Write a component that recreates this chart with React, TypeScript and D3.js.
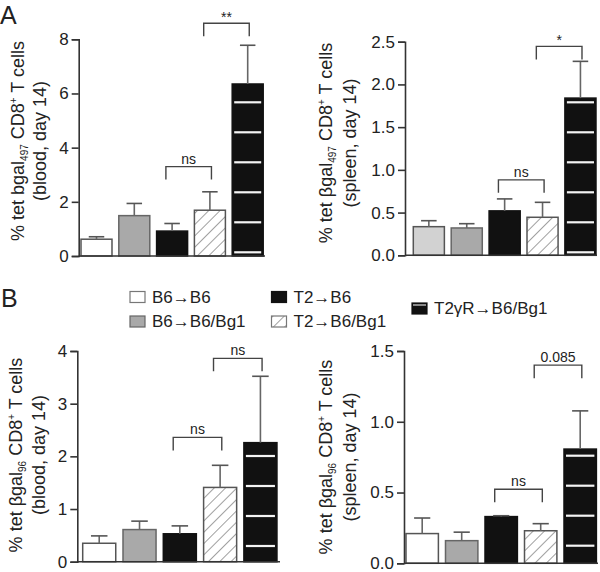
import { useEffect, useRef } from "react";
import * as d3 from "d3";

const groups = ["B6→B6", "B6→B6/Bg1", "T2→B6", "T2→B6/Bg1", "T2γR→B6/Bg1"];

// A: bgal497, day 14
const blood497Mean = [0.62, 1.49, 0.92, 1.69, 6.35];
const blood497Err = [0.09, 0.45, 0.28, 0.68, 1.43];
const spleen497Mean = [0.335, 0.32, 0.52, 0.445, 1.84];
const spleen497Err = [0.07, 0.05, 0.14, 0.175, 0.43];

// B: bgal96, day 14
const blood96Mean = [0.35, 0.61, 0.53, 1.41, 2.26];
const blood96Err = [0.14, 0.16, 0.15, 0.42, 1.26];
const spleen96Mean = [0.21, 0.16, 0.33, 0.23, 0.807];
const spleen96Err = [0.11, 0.06, 0.006, 0.05, 0.27];

const ticksBlood497 = [0, 2, 4, 6, 8];
const ticksSpleen497 = [0, 0.5, 1.0, 1.5, 2.0, 2.5];
const ticksBlood96 = [0, 1, 2, 3, 4];
const ticksSpleen96 = [0, 0.5, 1.0, 1.5];

interface Bracket { from: number; to: number; y: number; label: string }

const bracketsBlood497: Bracket[] = [
  { from: 2, to: 3, y: 3.3, label: "ns" },
  { from: 3, to: 4, y: 8.59, label: "**" },
];
const bracketsSpleen497: Bracket[] = [
  { from: 2, to: 3, y: 0.883, label: "ns" },
  { from: 3, to: 4, y: 2.445, label: "*" },
];
const bracketsBlood96: Bracket[] = [
  { from: 2, to: 3, y: 2.36, label: "ns" },
  { from: 3, to: 4, y: 3.86, label: "ns" },
];
const bracketsSpleen96: Bracket[] = [
  { from: 2, to: 3, y: 0.523, label: "ns" },
  { from: 3, to: 4, y: 1.4, label: "0.085" },
];

const FONT = "Liberation Sans, Arial, Helvetica, sans-serif";
const INK = "#222";
const fills = ["#ffffff", "#a9a9a9", "#111111", "url(#hatch)", "#111111"];
const strokes = ["#555", "#666", "#111", "#555", "#111"];

interface PanelProps {
  means: number[];
  errs: number[];
  ticks: number[];
  fmt: string;
  brackets: Bracket[];
  axisX: number;
  barX0: number;
  step: number;
  top: number;
  base: number;
  xEnd: number;
  stripeOffset: number;
  firstFill?: string;
  tissue: string;
  epitope: string;
  beta: boolean;
  labelX: [number, number];
  labelY: number;
}

const Panel: React.FC<PanelProps> = (p) => {
  const ref = useRef<SVGGElement>(null);

  useEffect(() => {
    if (!ref.current) return;
    const g = d3.select(ref.current);
    g.selectAll("*").remove();

    const y = d3.scaleLinear()
      .domain([0, p.ticks[p.ticks.length - 1]])
      .range([p.base, p.top]);
    const x = d3.scaleBand<string>()
      .domain(groups)
      .range([p.barX0, p.barX0 + p.step * (groups.length - 0.18)])
      .paddingInner(0.18)
      .paddingOuter(0);
    const bw = x.bandwidth();

    // bars
    groups.forEach((grp, i) => {
      const x0 = x(grp)!;
      const yt = y(p.means[i]);
      g.append("rect")
        .attr("x", x0).attr("y", yt)
        .attr("width", bw).attr("height", p.base - yt)
        .attr("fill", i === 0 && p.firstFill ? p.firstFill : fills[i])
        .attr("stroke", strokes[i])
        .attr("stroke-width", 1.5);
      if (i === 4) {
        // white stripes on the T2γR bar
        for (let sy = p.base - p.stripeOffset; sy > yt + 2; sy -= 30) {
          g.append("line")
            .attr("x1", x0 + 2).attr("x2", x0 + bw - 2)
            .attr("y1", sy).attr("y2", sy)
            .attr("stroke", "#f4f4f4").attr("stroke-width", 2.2);
        }
      }
      // error bar (upper only)
      const cx = x0 + bw / 2;
      const ye = y(p.means[i] + p.errs[i]);
      g.append("line")
        .attr("x1", cx).attr("x2", cx).attr("y1", yt).attr("y2", ye)
        .attr("stroke", "#666").attr("stroke-width", 1.6);
      g.append("line")
        .attr("x1", cx - bw * 0.25).attr("x2", cx + bw * 0.25)
        .attr("y1", ye).attr("y2", ye)
        .attr("stroke", "#555").attr("stroke-width", 1.6);
    });

    // axes
    const yAxis = g.append("g")
      .attr("transform", `translate(${p.axisX},0)`)
      .call(d3.axisLeft(y).tickValues(p.ticks).tickSize(7).tickPadding(3)
        .tickFormat((d) => d3.format(p.fmt)(d as number)));
    yAxis.select(".domain").attr("stroke", "#333").attr("stroke-width", 1.6);
    yAxis.selectAll(".tick line").attr("stroke", "#333").attr("stroke-width", 1.6);
    yAxis.selectAll(".tick text")
      .attr("font-family", FONT).attr("font-size", 17).attr("fill", INK);
    yAxis.attr("font-family", null).attr("font-size", null);

    g.append("line")
      .attr("x1", p.axisX).attr("x2", p.xEnd)
      .attr("y1", p.base).attr("y2", p.base)
      .attr("stroke", "#333").attr("stroke-width", 1.6);

    // significance brackets
    p.brackets.forEach((b) => {
      const xa = x(groups[b.from])! + bw * 0.3;
      const xb = x(groups[b.to])! + bw * 0.55;
      const yb = y(b.y);
      g.append("path")
        .attr("d", `M${xa},${yb + 13}V${yb}H${xb}V${yb + 13}`)
        .attr("fill", "none").attr("stroke", "#444").attr("stroke-width", 1.4);
      g.append("text")
        .attr("x", (xa + xb) / 2).attr("y", b.label.startsWith("*") ? yb - 1 : yb - 3)
        .attr("text-anchor", "middle")
        .attr("font-family", FONT).attr("font-size", 14).attr("fill", INK)
        .text(b.label);
    });

    // y label
    const t1 = g.append("text")
      .attr("transform", `translate(${p.labelX[0]},${p.labelY}) rotate(-90)`)
      .attr("text-anchor", "middle")
      .attr("font-family", FONT).attr("font-size", 18).attr("fill", INK);
    t1.append("tspan").text(p.beta ? "% tet βgal" : "% tet bgal");
    t1.append("tspan").attr("font-size", 10).attr("dy", 4).text(p.epitope);
    t1.append("tspan").attr("dy", -4).text(" CD8");
    t1.append("tspan").attr("font-size", 10).attr("dy", -7).text("+");
    t1.append("tspan").attr("dy", 7).text(" T cells");

    g.append("text")
      .attr("transform", `translate(${p.labelX[1]},${p.labelY}) rotate(-90)`)
      .attr("text-anchor", "middle")
      .attr("font-family", FONT).attr("font-size", 18).attr("fill", INK)
      .text(`(${p.tissue}, day 14)`);
  }, [p]);

  return <g ref={ref} />;
};

const Legend: React.FC = () => {
  const items = [
    { i: 0, x: 130, y: 291.5 },
    { i: 1, x: 130, y: 316 },
    { i: 2, x: 271.5, y: 291.5 },
    { i: 3, x: 271.5, y: 316 },
    { i: 4, x: 412, y: 303 },
  ];
  return (
    <g fontFamily={FONT} fontSize={17} fill={INK}>
      {items.map((it) => (
        <g key={it.i}>
          <rect x={it.x} y={it.y} width={15} height={11}
            fill={fills[it.i]} stroke={it.i === 0 || it.i === 3 ? "#777" : strokes[it.i]} strokeWidth={1.2} />
          {it.i === 4 && (
            <line x1={it.x + 1} x2={it.x + 14} y1={it.y + 2} y2={it.y + 2} stroke="#ddd" strokeWidth={1.2} />
          )}
          <text x={it.x + 22} y={it.y + 11}>{groups[it.i]}</text>
        </g>
      ))}
    </g>
  );
};

export default function App() {
  return (
    <svg width={600} height={572} viewBox="0 0 600 572"
      style={{ position: "absolute", left: 0, top: 0, background: "#fff" }}>
      <defs>
        <pattern id="hatch" patternUnits="userSpaceOnUse" width={8} height={8}
          patternTransform="rotate(45)">
          <rect width={8} height={8} fill="#fff" />
          <line x1={0} y1={0} x2={0} y2={8} stroke="#777" strokeWidth={1.4} />
        </pattern>
      </defs>
      <rect width={600} height={572} fill="#fff" />
      <text x={0} y={24} fontFamily={FONT} fontSize={25} fill={INK}>A</text>
      <text x={1} y={307} fontFamily={FONT} fontSize={25} fill={INK}>B</text>

      <Panel means={blood497Mean} errs={blood497Err} ticks={ticksBlood497} fmt="d"
        brackets={bracketsBlood497} axisX={78.7} barX0={81} step={37.8}
        top={39.3} base={256} xEnd={265} stripeOffset={3.7}
        tissue="blood" epitope="497" beta={false} labelX={[24, 46]} labelY={141} />
      <Panel means={spleen497Mean} errs={spleen497Err} ticks={ticksSpleen497} fmt=".1f"
        brackets={bracketsSpleen497} axisX={405} barX0={413.3} step={37.9}
        top={41.7} base={255.3} xEnd={597} stripeOffset={3} firstFill="#d2d2d2"
        tissue="spleen" epitope="497" beta={true} labelX={[332, 356]} labelY={143} />
      <Panel means={blood96Mean} errs={blood96Err} ticks={ticksBlood96} fmt="d"
        brackets={bracketsBlood96} axisX={77.3} barX0={82.7} step={40.3}
        top={351} base={561.7} xEnd={280} stripeOffset={15.7}
        tissue="blood" epitope="96" beta={true} labelX={[22, 45]} labelY={455} />
      <Panel means={spleen96Mean} errs={spleen96Err} ticks={ticksSpleen96} fmt=".1f"
        brackets={bracketsSpleen96} axisX={404} barX0={406} step={39.5}
        top={351} base={563.3} xEnd={598} stripeOffset={17.6}
        tissue="spleen" epitope="96" beta={true} labelX={[332, 356]} labelY={457} />

      <Legend />
    </svg>
  );
}
